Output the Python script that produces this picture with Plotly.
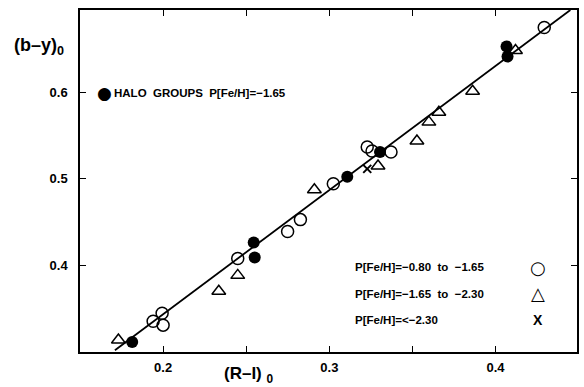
import plotly.graph_objects as go

# Data: (R-I)0 vs (b-y)0
halo_x = [0.1814, 0.2545, 0.2551, 0.3108, 0.3305, 0.4066, 0.4072]
halo_y = [0.3115, 0.4264, 0.4092, 0.5023, 0.5310, 0.6529, 0.6414]

open_x = [0.1940, 0.1994, 0.2000, 0.2449, 0.2749, 0.2826, 0.3024, 0.3228, 0.3257, 0.3371, 0.4293]
open_y = [0.3356, 0.3448, 0.3310, 0.4080, 0.4391, 0.4529, 0.4943, 0.5368, 0.5322, 0.5310, 0.6747]

tri_x = [0.1731, 0.2335, 0.2449, 0.2910, 0.3293, 0.3527, 0.3599, 0.3659, 0.3862, 0.4120]
tri_y = [0.3138, 0.3701, 0.3885, 0.4874, 0.5149, 0.5437, 0.5655, 0.5770, 0.6011, 0.6483]

cross_x = [0.3228]
cross_y = [0.5115]

fit_x = [0.171, 0.445]
fit_y = [0.302, 0.695]

x_ticks = [0.2, 0.3, 0.4]
x_ticklabels = ["0.2", "0.3", "0.4"]
x_minor = [0.25, 0.35]
y_ticks = [0.4, 0.5, 0.6]
y_ticklabels = ["0.4", "0.5", "0.6"]

legend_texts = ["P[Fe/H]=\u22120.80  to  \u22121.65", "P[Fe/H]=\u22121.65  to  \u22122.30", "P[Fe/H]=<\u22122.30"]
legend_syms = ["\u25CB", "\u25B3", "X"]
halo_label = "HALO  GROUPS  P[Fe/H]=\u22121.65"

FONT = "Liberation Sans"
BLACK = "black"

fig = go.Figure()
fig.add_trace(go.Scatter(x=fit_x, y=fit_y, mode="lines",
                         line=dict(color=BLACK, width=1.8), showlegend=False))
fig.add_trace(go.Scatter(x=open_x, y=open_y, mode="markers",
                         marker=dict(symbol="circle-open", size=12, color=BLACK, line=dict(width=1.5)),
                         showlegend=False))
fig.add_trace(go.Scatter(x=tri_x, y=tri_y, mode="markers",
                         marker=dict(symbol="triangle-up-open", size=12, color=BLACK, line=dict(width=1.5)),
                         showlegend=False))
fig.add_trace(go.Scatter(x=cross_x, y=cross_y, mode="markers",
                         marker=dict(symbol="x-thin", size=8, color=BLACK, line=dict(width=2, color=BLACK)),
                         showlegend=False))
fig.add_trace(go.Scatter(x=halo_x, y=halo_y, mode="markers",
                         marker=dict(symbol="circle", size=12, color=BLACK),
                         showlegend=False))

axis_common = dict(showgrid=False, zeroline=False, showline=True, linecolor=BLACK, linewidth=1.5,
                   mirror="allticks", ticks="inside", ticklen=6, tickwidth=1.2, tickcolor=BLACK,
                   tickfont=dict(family=FONT, size=13, color=BLACK, weight="bold"))

fig.update_xaxes(range=[0.15, 0.449], tickvals=x_ticks, ticktext=x_ticklabels,
                 ticklabelstandoff=3,
                 minor=dict(tickvals=x_minor, ticks="inside", ticklen=6, tickwidth=1.2, tickcolor=BLACK, showgrid=False),
                 **axis_common)
fig.update_yaxes(range=[0.30, 0.695], tickvals=y_ticks, ticktext=y_ticklabels,
                 ticklabelstandoff=8, **axis_common)

annots = []
annots.append(dict(xref="paper", yref="paper", x=-0.083, y=0.892, xanchor="center", yanchor="middle",
                   text="(b\u2013y)<sub>0</sub>", showarrow=False,
                   font=dict(family=FONT, size=18, color=BLACK, weight="bold")))
annots.append(dict(xref="paper", yref="paper", x=0.34, y=-0.066, xanchor="center", yanchor="middle",
                   text="(R\u2013I) <sub>0</sub>", showarrow=False,
                   font=dict(family=FONT, size=17, color=BLACK, weight="bold")))
annots.append(dict(xref="paper", yref="paper", x=(105 - 80) / 499, y=(352 - 93) / 342, xanchor="center", yanchor="middle",
                   text="\u25CF", showarrow=False,
                   font=dict(family="DejaVu Sans", size=17, color=BLACK)))
annots.append(dict(xref="paper", yref="paper", x=(112 - 80) / 499, y=(352 - 93) / 342, xanchor="left", yanchor="middle",
                   text=halo_label, showarrow=False,
                   font=dict(family=FONT, size=11.5, color=BLACK, weight="bold")))
for i, (t, s) in enumerate(zip(legend_texts, legend_syms)):
    py = 267 + i * 26.5
    annots.append(dict(xref="paper", yref="paper", x=(354 - 80) / 499, y=(352 - py) / 342,
                       xanchor="left", yanchor="middle", text=t, showarrow=False,
                       font=dict(family=FONT, size=11.5, color=BLACK, weight="bold")))
    annots.append(dict(xref="paper", yref="paper", x=(540 - 80) / 499, y=(352 - py) / 342,
                       xanchor="center", yanchor="middle", text=s, showarrow=False,
                       font=dict(family="DejaVu Sans" if s != "X" else FONT, size=18 if s != "X" else 14,
                                 color=BLACK, weight="bold" if s == "X" else "normal")))

fig.update_layout(width=584, height=387, margin=dict(l=80, r=5, t=10, b=35),
                  paper_bgcolor="white", plot_bgcolor="white", annotations=annots,
                  showlegend=False)

fig.write_html("out.html")
